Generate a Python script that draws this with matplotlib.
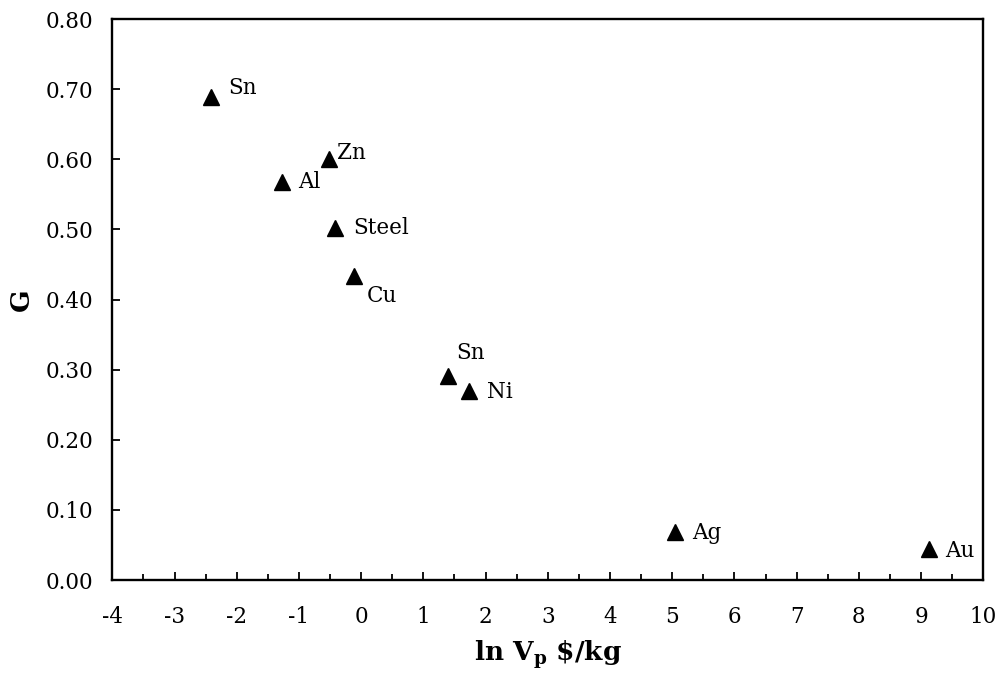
#!/usr/bin/env python3
"""G versus ln of metal price, scatter with element labels."""

import matplotlib
matplotlib.use('Agg')
import matplotlib.pyplot as plt
from matplotlib.ticker import MultipleLocator, FormatStrFormatter

# Data
metals = ['Sn', 'Al', 'Zn', 'Steel', 'Cu', 'Sn', 'Ni', 'Ag', 'Au']
ln_vp = [-2.42, -1.28, -0.52, -0.42, -0.11, 1.40, 1.74, 5.04, 9.13]
g_vals = [0.689, 0.568, 0.600, 0.502, 0.434, 0.291, 0.270, 0.069, 0.044]

# label offsets from each marker, in pixels (right, up)
label_offsets = [(18, 9), (17, 0), (8, 6), (18, 0), (12, -20),
                 (8, 23), (18, -1), (17, -1), (16, -2)]

plt.rcParams['font.family'] = 'DejaVu Serif'
plt.rcParams['mathtext.fontset'] = 'dejavuserif'
plt.rcParams['axes.unicode_minus'] = False

fig = plt.figure(figsize=(10.02, 6.79), dpi=100)
ax = fig.add_axes([0.1121, 0.1458, 0.8692, 0.8262])

ax.plot(ln_vp, g_vals, linestyle='none', marker='^', markersize=11.5,
        color='black', clip_on=False)

for name, x, y, (dx, dy) in zip(metals, ln_vp, g_vals, label_offsets):
    ax.annotate(name, (x, y), xytext=(dx, dy), textcoords='offset pixels',
                ha='left', va='center', fontsize=15.5)

ax.set_xlim(-4, 10)
ax.set_ylim(0, 0.8)
ax.xaxis.set_major_locator(MultipleLocator(1))
ax.xaxis.set_minor_locator(MultipleLocator(0.5))
ax.yaxis.set_major_locator(MultipleLocator(0.1))
ax.yaxis.set_major_formatter(FormatStrFormatter('%.2f'))

for s in ax.spines.values():
    s.set_linewidth(1.7)

ax.tick_params(axis='both', which='both', direction='in', labelsize=15.5,
               top=False, right=False)
ax.tick_params(axis='x', which='major', length=5.5, width=1.3, pad=19)
ax.tick_params(axis='x', which='minor', length=4, width=1.3)
ax.tick_params(axis='y', which='major', length=5.5, width=1.3, pad=14)

ax.set_xlabel(r'ln V$_{\mathbf{p}}$ \$/kg', fontsize=19, fontweight='bold',
              labelpad=7)
ax.set_ylabel('G', fontsize=19, fontweight='bold', labelpad=8)

plt.savefig('out.png', dpi=100)
plt.close()
